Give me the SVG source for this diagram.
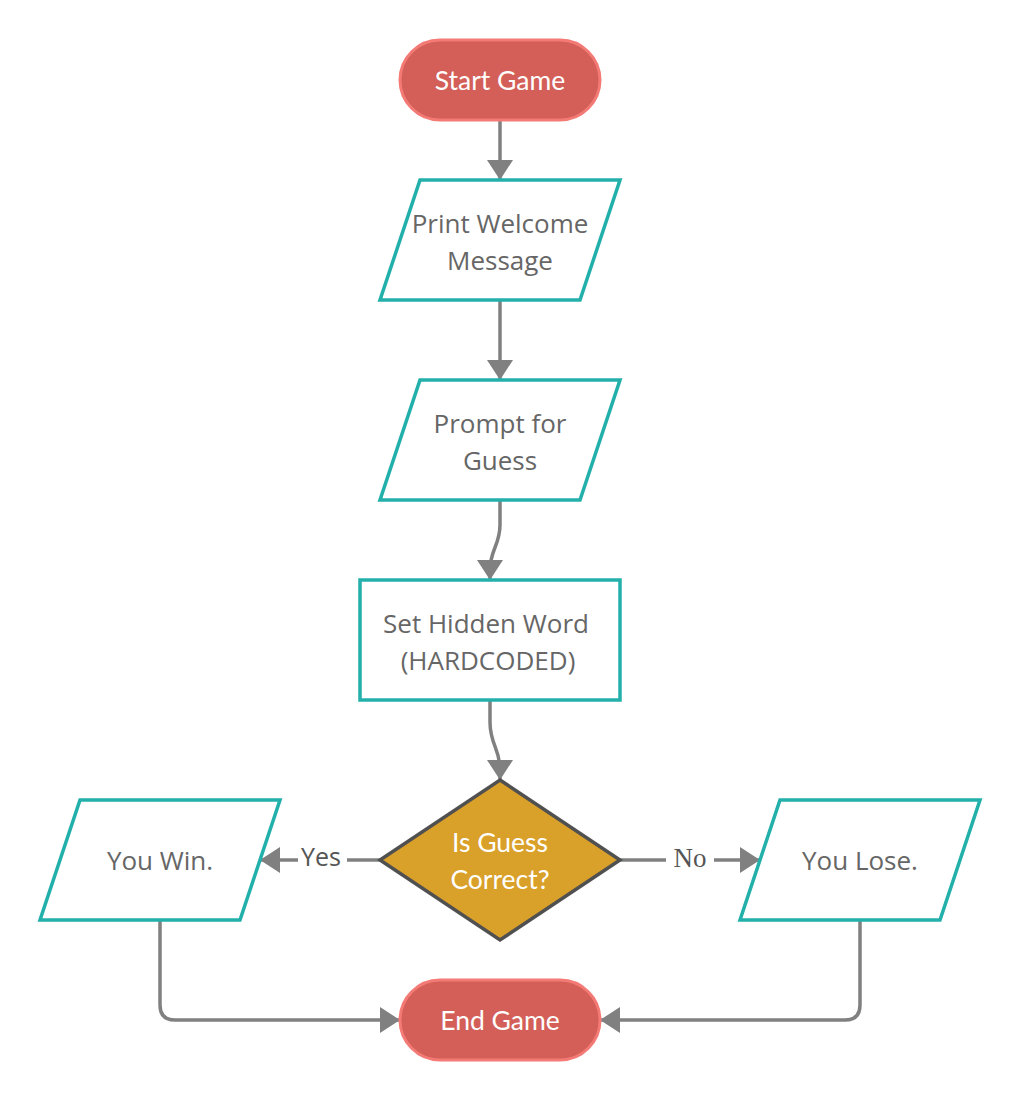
<svg xmlns="http://www.w3.org/2000/svg" width="1020" height="1100" viewBox="0 0 1020 1100">
<defs>
<style>
.term{fill:#d35f58;stroke:#f47a76;stroke-width:3}
.io{fill:#fff;stroke:#23b0ab;stroke-width:3.5;stroke-linejoin:miter}
.dec{fill:#d9a02a;stroke:#505050;stroke-width:3.5}
.tw{font-family:Lato,"Open Sans",sans-serif;font-size:26.5px;fill:#fff;text-anchor:middle}
.tg{font-family:"Open Sans","Liberation Sans",sans-serif;font-size:26px;fill:#666;text-anchor:middle}
.ln{fill:none;stroke:#808080;stroke-width:3.5}
.lbl{fill:#555;text-anchor:middle}
</style>
<marker id="ah" markerWidth="26" markerHeight="26" viewBox="0 0 20 26" refX="20" refY="13" orient="auto" markerUnits="userSpaceOnUse">
<path d="M0,0 L20,13 L0,26 Z" fill="#808080"/>
</marker>
</defs>
<g id="connectors">
<path class="ln" d="M500,120 L500,180" marker-end="url(#ah)"/>
<path class="ln" d="M500,300 L500,380" marker-end="url(#ah)"/>
<path class="ln" d="M500,500 L500,525 C500,545 490,550 490,570 L490,580" marker-end="url(#ah)"/>
<path class="ln" d="M490,700 L490,722 C490,745 500,748 500,770 L500,780" marker-end="url(#ah)"/>
<path class="ln" d="M380,860 L347,860"/>
<path class="ln" d="M298,860 L260,860" marker-end="url(#ah)"/>
<text class="lbl" x="321" y="866" style="font-family:'Open Sans','Liberation Sans',sans-serif;font-size:25px">Yes</text>
<path class="ln" d="M620,860 L666,860"/>
<path class="ln" d="M714,860 L760,860" marker-end="url(#ah)"/>
<text class="lbl" x="690" y="867" style="font-family:'Liberation Serif',serif;font-size:27px">No</text>
<path class="ln" d="M160,920 L160,1005 Q160,1020 175,1020 L400,1020" marker-end="url(#ah)"/>
<path class="ln" d="M860,920 L860,1005 Q860,1020 845,1020 L600,1020" marker-end="url(#ah)"/>
</g>
<g id="start">
<rect class="term" x="400" y="40" width="200" height="80" rx="40"/>
<text class="tw" x="500" y="90">Start Game</text>
</g>
<g id="welcome">
<polygon class="io" points="420,180 620,180 580,300 380,300"/>
<text class="tg" x="500" y="233">Print Welcome</text>
<text class="tg" x="500" y="270">Message</text>
</g>
<g id="prompt">
<polygon class="io" points="420,380 620,380 580,500 380,500"/>
<text class="tg" x="500" y="433">Prompt for</text>
<text class="tg" x="500" y="470">Guess</text>
</g>
<g id="hidden">
<rect class="io" x="360" y="580" width="260" height="120"/>
<text class="tg" x="486" y="633">Set Hidden Word</text>
<text class="tg" x="488" y="670">(HARDCODED)</text>
</g>
<g id="decision">
<polygon class="dec" points="500,780 620,860 500,940 380,860"/>
<text class="tw" x="500" y="852">Is Guess</text>
<text class="tw" x="500" y="889">Correct?</text>
</g>
<g id="win">
<polygon class="io" points="80,800 280,800 240,920 40,920"/>
<text class="tg" x="160" y="870">You Win.</text>
</g>
<g id="lose">
<polygon class="io" points="780,800 980,800 940,920 740,920"/>
<text class="tg" x="860" y="870">You Lose.</text>
</g>
<g id="end">
<rect class="term" x="400" y="980" width="200" height="80" rx="40"/>
<text class="tw" x="500" y="1030">End Game</text>
</g>
</svg>
